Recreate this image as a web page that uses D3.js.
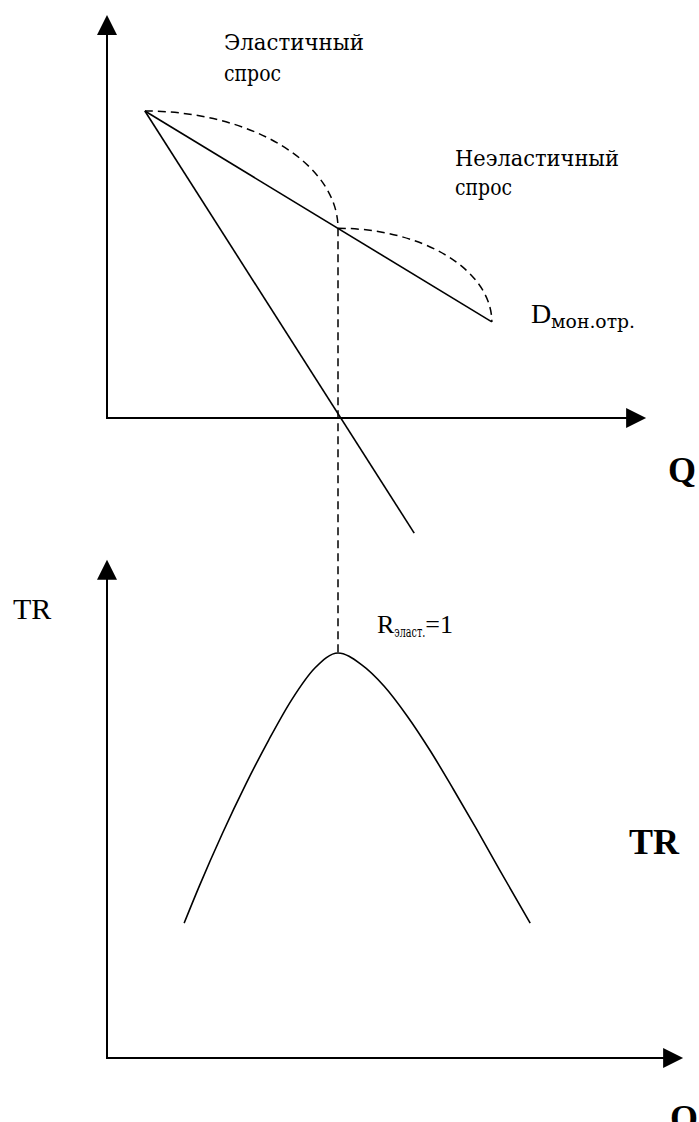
<!DOCTYPE html>
<html>
<head>
<meta charset="utf-8">
<script src="https://cdn.jsdelivr.net/npm/d3@7"></script>
<style>
	body { margin: 0; background: #fff; }
	svg { display: block; }
	text { font-family: "Liberation Serif", "Times New Roman", serif; fill: #000; }
	.cyr { font-family: "DejaVu Serif", "Liberation Serif", serif; }
</style>
</head>
<body>
<div id="chart"></div>
<script>
// demand of the monopolist (D) and marginal revenue (MR), upper panel
var demandQ = [0.82, 8.33];
var demandP = [10, 3.13];
var mrQ = [0.82, 6.65];
var mrP = [10, -3.75];
// point of unit elasticity on D
var unitQ = 5;
var unitP = 6.18;
// total revenue, lower panel
var trQ = [1.67, 2.0, 2.5, 3.0, 3.5, 4.0, 4.5, 5.0, 5.5, 6.0, 6.5, 7.0, 7.5, 8.0, 8.5, 9.16];
var trValues = [33.3, 42.5, 55.5, 67.5, 78.5, 88.5, 96.3, 100, 97.2, 91.8, 84.4, 75.8, 66.3, 56.5, 46.4, 33.3];
// axis lengths [Q, P] and [Q, TR]
var topAxisMax = [11.67, 13.13];
var bottomAxisMax = [12.47, 123];
// labels
var elasticLabel = ['Эластичный', 'спрос'];
var inelasticLabel = ['Неэластичный', 'спрос'];
var demandLabel = ['D', 'мон.отр.'];
var unitLabel = ['R', 'эласт.', '=1'];

var width = 699,
	height = 1122;

var x = d3.scaleLinear().domain([0, 10]).range([107, 569]);
var yP = d3.scaleLinear().domain([0, 10]).range([418, 111]);
var yTR = d3.scaleLinear().domain([0, 100]).range([1058, 653]);

var svg = d3
	.select('#chart')
	.append('svg')
	.attr('width', width)
	.attr('height', height);

function arrow(g, x1, y1, x2, y2) {
	var dx = x2 - x1,
		dy = y2 - y1,
		len = Math.sqrt(dx * dx + dy * dy),
		ux = dx / len,
		uy = dy / len;
	var bx = x2 - ux * 20,
		by = y2 - uy * 20;
	g.append('line')
		.attr('x1', x1)
		.attr('y1', y1)
		.attr('x2', bx)
		.attr('y2', by)
		.attr('stroke', '#000')
		.attr('stroke-width', 2)
		.attr('stroke-linecap', 'square');
	g.append('path')
		.attr('d', 'M' + x2 + ',' + y2 + 'L' + (bx - uy * 10) + ',' + (by + ux * 10) + 'L' + (bx + uy * 10) + ',' + (by - ux * 10) + 'Z')
		.attr('fill', '#000');
}

//axes
var axes = svg.append('g').attr('class', 'axes');
arrow(axes, x(0), yP(0), x(0), yP(topAxisMax[1]));
arrow(axes, x(0), yP(0), x(topAxisMax[0]), yP(0));
arrow(axes, x(0), yTR(0), x(0), yTR(bottomAxisMax[1]));
arrow(axes, x(0), yTR(0), x(bottomAxisMax[0]), yTR(0));

//dashed guides
var dashed = svg.append('g').attr('class', 'dashed')
	.attr('fill', 'none')
	.attr('stroke', '#000')
	.attr('stroke-width', 1.5)
	.attr('stroke-dasharray', '8,5');

var ax = x(demandQ[0]), ay = yP(demandP[0]),
	ex = x(unitQ), ey = yP(unitP),
	dx = x(demandQ[1]), dy = yP(demandP[1]);

dashed.append('path')
	.attr('d', 'M' + ax + ',' + ay + 'A' + (ex - ax) + ',' + (ey - ay) + ' 0 0 1 ' + ex + ',' + ey);
dashed.append('path')
	.attr('d', 'M' + ex + ',' + ey + 'A' + (dx - ex) + ',' + (dy - ey) + ' 0 0 1 ' + dx + ',' + dy);
dashed.append('line')
	.attr('x1', ex)
	.attr('y1', ey)
	.attr('x2', x(unitQ))
	.attr('y2', yTR(d3.max(trValues)));

//demand and MR
var line = d3.line();
var lines = svg.append('g').attr('class', 'lines')
	.attr('fill', 'none')
	.attr('stroke', '#000')
	.attr('stroke-width', 1.6);

lines.append('path')
	.attr('d', line(demandQ.map(function(q, i) { return [x(q), yP(demandP[i])]; })));
lines.append('path')
	.attr('d', line(mrQ.map(function(q, i) { return [x(q), yP(mrP[i])]; })));

var trLine = d3
	.line()
	.x(function(d) { return x(d[0]); })
	.y(function(d) { return yTR(d[1]); })
	.curve(d3.curveMonotoneX);

lines.append('path')
	.attr('d', trLine(trQ.map(function(q, i) { return [q, trValues[i]]; })));

//texts
var labels = svg.append('g').attr('class', 'labels');

function cyr(tx, ty, size, len, str) {
	return labels.append('text')
		.attr('class', 'cyr')
		.attr('x', tx)
		.attr('y', ty)
		.attr('font-size', size)
		.attr('textLength', len)
		.attr('lengthAdjust', 'spacingAndGlyphs')
		.text(str);
}

cyr(224, 50, 22, 140, elasticLabel[0]);
cyr(224, 81, 22, 57, elasticLabel[1]);
cyr(455, 166, 22, 164, inelasticLabel[0]);
cyr(455, 195, 22, 57, inelasticLabel[1]);

labels.append('text').attr('x', 531).attr('y', 323).attr('font-size', 28).text(demandLabel[0]);
cyr(551, 328, 19, 84, demandLabel[1]);

labels.append('text').attr('x', 668).attr('y', 482).attr('font-size', 36)
	.attr('font-weight', 'bold').text('Q');

labels.append('text').attr('x', 13).attr('y', 619).attr('font-size', 30).text('TR');

var rText = labels.append('text').attr('x', 377).attr('y', 633).attr('font-size', 26);
rText.append('tspan').text(unitLabel[0]);
rText.append('tspan')
	.attr('class', 'cyr')
	.attr('font-size', 14)
	.attr('dy', 4)
	.attr('textLength', 31)
	.attr('lengthAdjust', 'spacingAndGlyphs')
	.text(unitLabel[1]);
rText.append('tspan').attr('dy', -4).text(unitLabel[2]);

labels.append('text').attr('x', 629).attr('y', 854).attr('font-size', 36)
	.attr('font-weight', 'bold').text('TR');

labels.append('text').attr('x', 670).attr('y', 1130).attr('font-size', 36)
	.attr('font-weight', 'bold').text('Q');
</script>
</body>
</html>
